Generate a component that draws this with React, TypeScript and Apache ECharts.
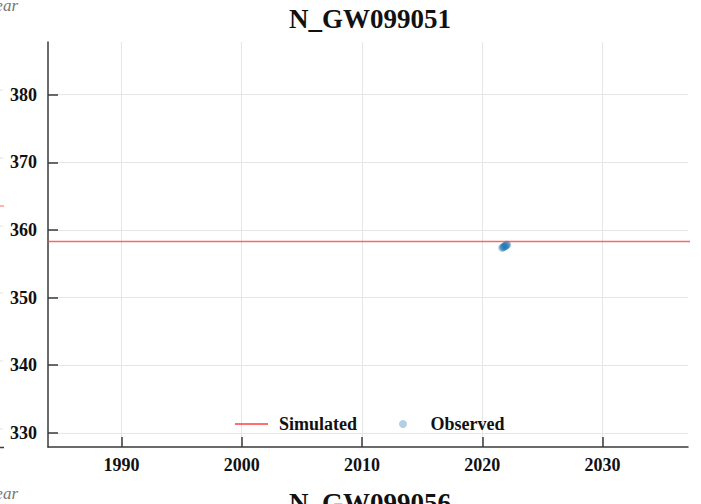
import React, { useEffect, useRef } from 'react';
import * as echarts from 'echarts';

const chartTitle = 'N_GW099051';
const nextPanelTitle = 'N_GW099056';
const xAxisName = 'Year';
const xTickYears = [1990, 2000, 2010, 2020, 2030];
const yTickValues = [330, 340, 350, 360, 370, 380];
const xRange = [1983.9, 2037.1];
const yRange = [327.9, 387.8];
const simulatedYears = [1980, 2040];
const simulatedLevels = [358.3, 358.3];
const observedYears = [2021.65, 2021.72, 2021.78, 2021.84, 2021.9, 2021.96, 2022.02, 2022.07];
const observedLevels = [357.35, 357.45, 357.5, 357.55, 357.6, 357.7, 357.78, 357.85];
const neighbourGridY = [90, 158, 226, 293, 361, 429];

const FONT = "'Liberation Serif', 'DejaVu Serif', serif";
const LINE_ICON = 'path://M0,0L0.01,0L0.01,0.01Z M0,3.25H33V4.75H0Z M32.99,8L33,8L33,7.99Z';

export default function App() {
  const ref = useRef<HTMLDivElement>(null);
  useEffect(() => {
    if (!ref.current) return;
    const chart = echarts.init(ref.current, undefined, { renderer: 'svg' });
    const axisColor = '#3a3a3a';
    const labelStyle = { fontFamily: FONT, fontSize: 18, fontWeight: 'bold' as const, color: '#111' };
    const graphics: any[] = [];
    neighbourGridY.forEach((y) =>
      graphics.push({ type: 'line', shape: { x1: 0, y1: y, x2: 3, y2: y }, style: { stroke: '#e4e4e4', lineWidth: 1 } })
    );
    graphics.push({ type: 'line', shape: { x1: 0, y1: 206, x2: 4, y2: 206 }, style: { stroke: '#ff6666', lineWidth: 1 } });
    graphics.push({ type: 'line', shape: { x1: 0, y1: 447.5, x2: 4, y2: 447.5 }, style: { stroke: axisColor, lineWidth: 1.5 } });
    graphics.push({
      type: 'text', x: 18, y: 14,
      style: { text: xAxisName, font: `italic 17px ${FONT}`, fill: '#777', align: 'right', verticalAlign: 'bottom' },
    });
    graphics.push({
      type: 'text', x: 18, y: 502,
      style: { text: xAxisName, font: `italic 17px ${FONT}`, fill: '#777', align: 'right', verticalAlign: 'bottom' },
    });

    const titleStyle = { fontFamily: FONT, fontSize: 27, fontWeight: 'bold' as const, color: '#111' };
    chart.setOption({
      animation: false,
      textStyle: { fontFamily: FONT },
      title: [
        { text: chartTitle, left: 370, top: 5, textAlign: 'center', padding: 0, textStyle: titleStyle },
        { text: nextPanelTitle, left: 370, top: 489, textAlign: 'center', padding: 0, textStyle: titleStyle },
      ],
      grid: { left: 48, right: 13, top: 42, bottom: 57 },
      xAxis: {
        type: 'value', min: xRange[0], max: xRange[1],
        axisLine: { show: true, onZero: false, lineStyle: { color: axisColor, width: 1.5 } },
        axisTick: { show: true, inside: true, length: 10, customValues: xTickYears, lineStyle: { color: axisColor, width: 1.5 } },
        axisLabel: { ...labelStyle, customValues: xTickYears, margin: 9, formatter: (v: number) => String(v) },
        splitLine: { show: true, lineStyle: { color: '#e6e6e6', width: 1 } },
      },
      yAxis: {
        type: 'value', min: yRange[0], max: yRange[1],
        axisLine: { show: true, onZero: false, lineStyle: { color: axisColor, width: 1.5 } },
        axisTick: { show: true, inside: true, length: 10, customValues: yTickValues, lineStyle: { color: axisColor, width: 1.5 } },
        axisLabel: { ...labelStyle, customValues: yTickValues, margin: 11, formatter: (v: number) => String(v) },
        splitLine: { show: true, lineStyle: { color: '#e6e6e6', width: 1 } },
      },
      legend: {
        left: 235, top: 415, padding: 0, itemWidth: 33, itemHeight: 8, itemGap: 42,
        textStyle: { ...labelStyle, padding: [0, 0, 0, 6] },
        data: [
          { name: 'Simulated', icon: LINE_ICON, itemStyle: { color: '#ff4040' } },
          { name: 'Observed', icon: 'circle' },
        ],
      },
      graphic: graphics,
      series: [
        {
          name: 'Simulated', type: 'line', symbol: 'none', clip: true,
          data: simulatedYears.map((y, i) => [y, simulatedLevels[i]]),
          lineStyle: { color: '#ff4040', width: 1.5, opacity: 0.8 },
          itemStyle: { color: '#ff4040' },
        },
        {
          name: 'Observed', type: 'scatter', symbolSize: 8,
          data: observedYears.map((y, i) => [y, observedLevels[i]]),
          itemStyle: { color: '#1f77b4', opacity: 0.35 },
        },
      ],
    });
    return () => chart.dispose();
  }, []);
  return <div ref={ref} style={{ position: 'absolute', left: 0, top: 0, width: 701, height: 504 }} />;
}
